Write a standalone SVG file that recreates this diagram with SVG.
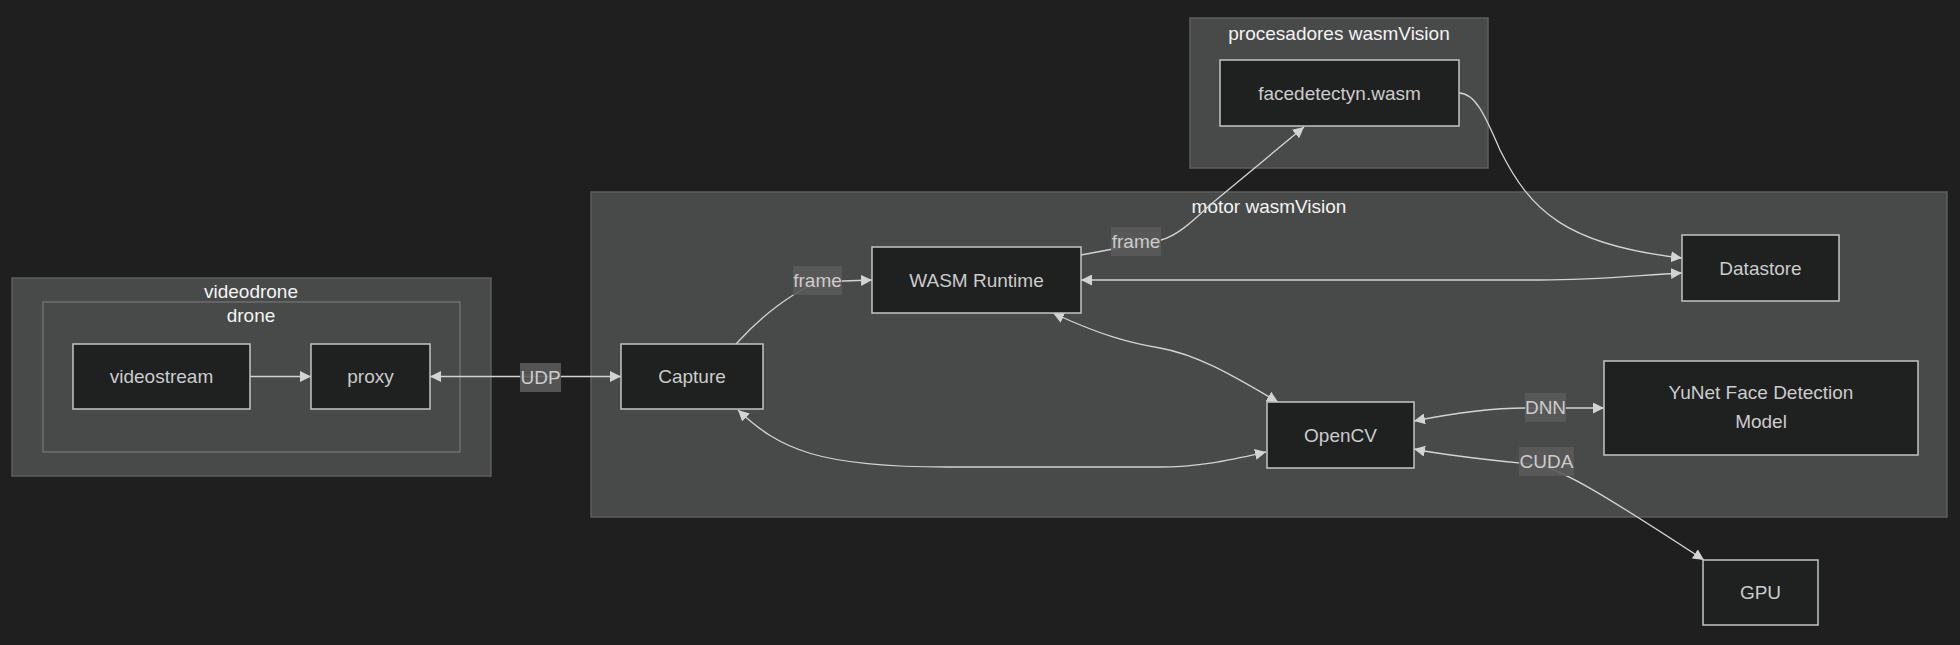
<svg xmlns="http://www.w3.org/2000/svg" width="1960" height="645" viewBox="0 0 1960 645">
<style>
.cl{fill:#484949;stroke:#5e5e5e;stroke-width:1.5}
.cl2{fill:#484949;stroke:#6e6e6e;stroke-width:1.5}
.nd{fill:#1f2020;stroke:#c4c4c4;stroke-width:1.5}
.t{font-family:"Liberation Sans",Arial,sans-serif;font-size:19px;fill:#cccccc;text-anchor:middle;dominant-baseline:central}
.ct{font-family:"Liberation Sans",Arial,sans-serif;font-size:19px;fill:#f4f4f4;text-anchor:middle;dominant-baseline:central}
.e{fill:none;stroke:#d3d3d3;stroke-width:1.3}
.lb{fill:#5a5a5a;opacity:0.9}
</style>
<defs>
<marker id="ar" viewBox="0 0 10 10" refX="10" refY="5" markerWidth="11" markerHeight="11" markerUnits="userSpaceOnUse" orient="auto-start-reverse">
<path d="M0,0 L10,5 L0,10 z" fill="#d3d3d3"/>
</marker>
</defs>
<rect width="1960" height="645" fill="#1f1f1f"/>
<g id="clusters">
<g id="videodrone"><rect class="cl" x="12" y="278" width="479" height="198"/><text class="ct" x="251" y="291">videodrone</text></g>
<g id="drone"><rect class="cl2" x="43" y="302" width="417" height="150"/><text class="ct" x="251" y="315">drone</text></g>
<g id="motor"><rect class="cl" x="591" y="192" width="1356" height="325"/><text class="ct" x="1269" y="206">motor wasmVision</text></g>
<g id="procesadores"><rect class="cl" x="1190" y="18" width="298" height="150"/><text class="ct" x="1339" y="33">procesadores wasmVision</text></g>
</g>
<g id="connectors">
<path class="e" d="M250,376.5 L311,376.5" marker-end="url(#ar)"/>
<path class="e" d="M430,376.5 L621,376.5" marker-start="url(#ar)" marker-end="url(#ar)"/>
<path class="e" d="M736,344 C765,312 790,296 815,282 L872,280" marker-end="url(#ar)"/>
<path class="e" d="M1081,255 L1161,240 C1176,236 1190,224 1210,205 L1304,127" marker-end="url(#ar)"/>
<path class="e" d="M1459,93 C1475,93 1485,115 1500,150 C1530,210 1565,245 1682,258" marker-end="url(#ar)"/>
<path class="e" d="M1081,280 L1540,280 C1600,280 1640,275 1682,273" marker-start="url(#ar)" marker-end="url(#ar)"/>
<path class="e" d="M1053,313 C1100,335 1130,343 1160,348 C1200,355 1240,380 1278,402" marker-start="url(#ar)" marker-end="url(#ar)"/>
<path class="e" d="M738,410 C780,450 820,467 947,467 L1158,467 C1200,467 1230,460 1266,452" marker-start="url(#ar)" marker-end="url(#ar)"/>
<path class="e" d="M1414,421 C1460,412 1495,408 1525,408 L1604,408" marker-start="url(#ar)" marker-end="url(#ar)"/>
<path class="e" d="M1414,449 C1460,458 1500,461 1540,465 C1565,472 1600,492 1704,560" marker-start="url(#ar)" marker-end="url(#ar)"/>
<g id="edge-labels">
<rect class="lb" x="520" y="363" width="41" height="29"/><text class="t" x="540.5" y="377.5">UDP</text>
<rect class="lb" x="793" y="266" width="49" height="29"/><text class="t" x="817.5" y="280.5">frame</text>
<rect class="lb" x="1111" y="227" width="50" height="29"/><text class="t" x="1136" y="241.5">frame</text>
<rect class="lb" x="1525" y="393" width="41" height="29"/><text class="t" x="1545.5" y="407.5">DNN</text>
<rect class="lb" x="1519" y="447" width="55" height="29"/><text class="t" x="1546.5" y="461.5">CUDA</text>
</g>
</g>
<g id="videostream"><rect class="nd" x="73" y="344" width="177" height="65"/><text class="t" x="161.5" y="376.5">videostream</text></g>
<g id="proxy"><rect class="nd" x="311" y="344" width="119" height="65"/><text class="t" x="370.5" y="376.5">proxy</text></g>
<g id="capture"><rect class="nd" x="621" y="344" width="142" height="65"/><text class="t" x="692" y="376.5">Capture</text></g>
<g id="wasmruntime"><rect class="nd" x="872" y="247" width="209" height="66"/><text class="t" x="976.5" y="280">WASM Runtime</text></g>
<g id="facedetect"><rect class="nd" x="1220" y="60" width="239" height="66"/><text class="t" x="1339.5" y="93">facedetectyn.wasm</text></g>
<g id="datastore"><rect class="nd" x="1682" y="235" width="157" height="66"/><text class="t" x="1760.5" y="268">Datastore</text></g>
<g id="opencv"><rect class="nd" x="1267" y="402" width="147" height="66"/><text class="t" x="1340.5" y="435">OpenCV</text></g>
<g id="yunet"><rect class="nd" x="1604" y="361" width="314" height="94"/><text class="t" x="1761" y="392.5">YuNet Face Detection</text><text class="t" x="1761" y="421.5">Model</text></g>
<g id="gpu"><rect class="nd" x="1703" y="560" width="115" height="65"/><text class="t" x="1760.5" y="592.5">GPU</text></g>
</svg>
